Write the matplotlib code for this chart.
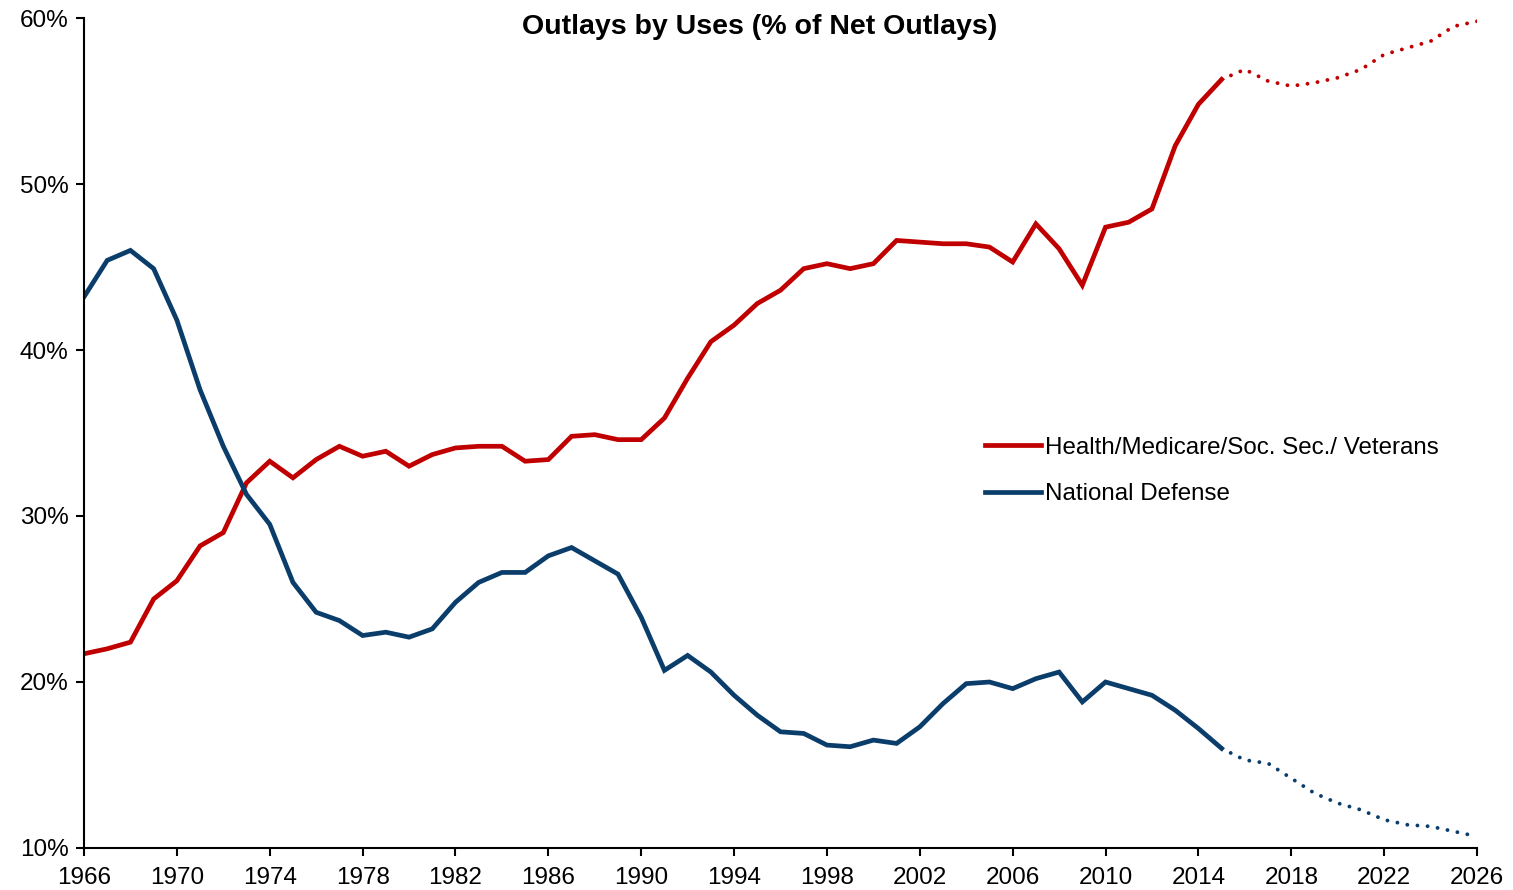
import numpy as np
import matplotlib.pyplot as plt

plt.rcParams['font.family'] = ['Liberation Sans', 'DejaVu Sans']

# actual values 1966-2015
years_actual = list(range(1966, 2016))
health_actual = [21.7, 22.0, 22.4, 25.0, 26.1, 28.2, 29.0, 32.0, 33.3, 32.3,
                 33.4, 34.2, 33.6, 33.9, 33.0, 33.7, 34.1, 34.2, 34.2, 33.3,
                 33.4, 34.8, 34.9, 34.6, 34.6, 35.9, 38.3, 40.5, 41.5, 42.8,
                 43.6, 44.9, 45.2, 44.9, 45.2, 46.6, 46.5, 46.4, 46.4, 46.2,
                 45.3, 47.6, 46.1, 43.9, 47.4, 47.7, 48.5, 52.3, 54.8, 56.3]
defense_actual = [43.2, 45.4, 46.0, 44.9, 41.8, 37.6, 34.2, 31.3, 29.5, 26.0,
                  24.2, 23.7, 22.8, 23.0, 22.7, 23.2, 24.8, 26.0, 26.6, 26.6,
                  27.6, 28.1, 27.3, 26.5, 23.9, 20.7, 21.6, 20.6, 19.2, 18.0,
                  17.0, 16.9, 16.2, 16.1, 16.5, 16.3, 17.3, 18.7, 19.9, 20.0,
                  19.6, 20.2, 20.6, 18.8, 20.0, 19.6, 19.2, 18.3, 17.2, 16.0]

# projections 2015-2026
years_proj = list(range(2015, 2027))
health_proj = [56.3, 56.9, 56.2, 55.9, 56.1, 56.4, 56.9, 57.8, 58.2, 58.6, 59.5, 59.8]
defense_proj = [16.0, 15.3, 15.1, 14.2, 13.3, 12.7, 12.3, 11.7, 11.4, 11.3, 11.0, 10.7]

red = '#C00000'
blue = '#0B3D6B'

fig = plt.figure(figsize=(15.13, 8.9), dpi=100)
ax = fig.add_axes([84/1513, 1-848/890, (1477-84)/1513, (848-18)/890])

ax.plot(years_actual, health_actual, color=red, lw=3.4, solid_joinstyle='miter',
        label='Health/Medicare/Soc. Sec./ Veterans')
ax.plot(years_actual, defense_actual, color=blue, lw=3.4, solid_joinstyle='miter',
        label='National Defense')
ax.plot(years_proj, health_proj, color=red, lw=2.8, linestyle=(0, (0.01, 2.6)),
        dash_capstyle='round')
ax.plot(years_proj, defense_proj, color=blue, lw=2.8, linestyle=(0, (0.01, 2.6)),
        dash_capstyle='round')

ax.set_xlim(1966, 2026)
ax.set_ylim(10, 60)
ax.set_xticks(range(1966, 2027, 4))
ax.set_yticks(range(10, 61, 10))
ax.set_yticklabels([f'{v}%' for v in range(10, 61, 10)])
ax.tick_params(axis='both', direction='out', length=6, width=1.5, labelsize=17.5,
               colors='black')
ax.tick_params(axis='x', pad=8)
ax.tick_params(axis='y', pad=5)
for s in ['top', 'right']:
    ax.spines[s].set_visible(False)
for s in ['left', 'bottom']:
    ax.spines[s].set_linewidth(1.5)

fig.text(760/1513, 1-27/890, 'Outlays by Uses (% of Net Outlays)', ha='center',
         va='center', fontsize=20.5, fontweight='bold')

leg = ax.legend(loc='center left', bbox_to_anchor=((985-84)/1393, (848-471)/830),
                frameon=False, fontsize=17.4, handlelength=2.3, handletextpad=0.2,
                labelspacing=1.0, borderpad=0, borderaxespad=0)

fig.savefig('out.png', dpi=100, facecolor='white')
